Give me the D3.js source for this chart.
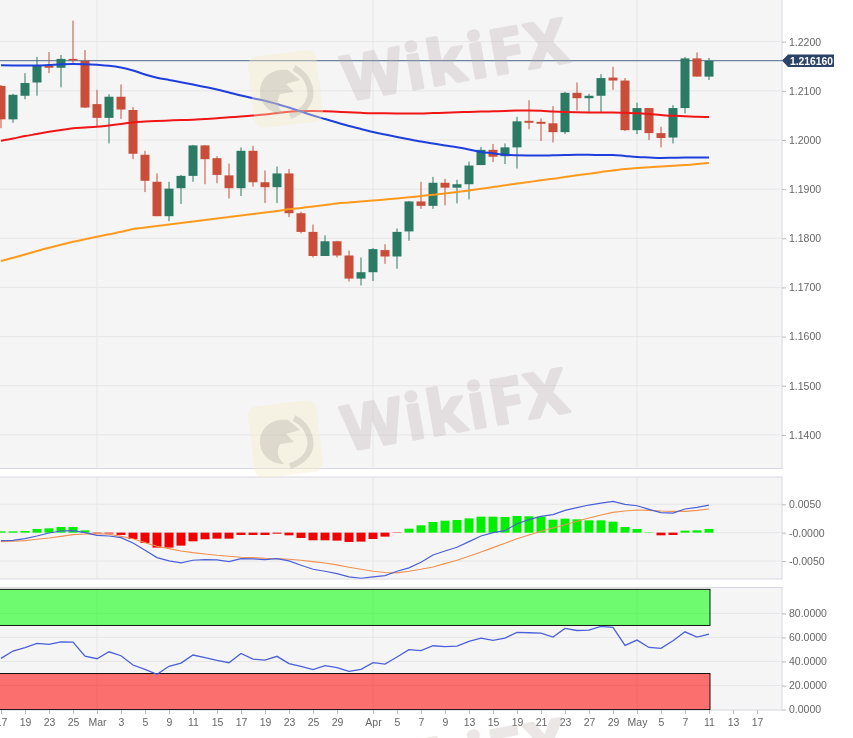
<!DOCTYPE html>
<html>
<head>
<meta charset="utf-8">
<script src="https://cdn.jsdelivr.net/npm/d3@7"></script>
<style>
  html, body { margin: 0; padding: 0; background: #fff; overflow: hidden; }
  svg { display: block; filter: blur(.35px); }
  text { font-family: "Liberation Sans", Arial, sans-serif; }
  .tick text { fill: #666; font-size: 10.5px; }
  .tick line { stroke: #bbb; }
</style>
</head>
<body>
<script>
const open_ = [1.2110,1.2042,1.2090,1.2117,1.2151,1.2147,1.2165,1.2161,1.2073,1.2045,1.2088,1.2061,1.1970,1.1915,1.1845,1.1902,1.1927,1.1989,1.1963,1.1928,1.1902,1.1978,1.1914,1.1904,1.1932,1.1851,1.1813,1.1764,1.1794,1.1765,1.1718,1.1731,1.1776,1.1763,1.1814,1.1875,1.1866,1.1913,1.1903,1.1910,1.1949,1.1980,1.1967,1.1985,1.2039,1.2037,1.2034,1.2016,1.2096,1.2085,1.2090,1.2127,1.2121,1.2020,1.2065,1.2014,1.2005,1.2065,1.2166,1.2129];
const close_ = [1.2042,1.2092,1.2116,1.2151,1.2147,1.2165,1.2162,1.2066,1.2045,1.2088,1.2062,1.1972,1.1917,1.1845,1.1901,1.1927,1.1989,1.1961,1.1929,1.1902,1.1978,1.1914,1.1904,1.1932,1.1851,1.1813,1.1764,1.1794,1.1765,1.1718,1.1731,1.1778,1.1763,1.1813,1.1875,1.1866,1.1913,1.1903,1.1910,1.1948,1.1980,1.1966,1.1985,1.2038,1.2035,1.2033,1.2016,1.2096,1.2085,1.2090,1.2126,1.2121,1.2020,1.2065,1.2014,1.2004,1.2065,1.2166,1.2129,1.2161];
const high = [1.2112,1.2094,1.2136,1.2169,1.2179,1.2173,1.2243,1.2183,1.2102,1.2093,1.2113,1.2067,1.1978,1.1932,1.1915,1.1929,1.1990,1.1990,1.1967,1.1952,1.1985,1.1988,1.1938,1.1946,1.1941,1.1854,1.1828,1.1806,1.1795,1.1775,1.1761,1.1780,1.1788,1.1820,1.1876,1.1915,1.1925,1.1921,1.1919,1.1956,1.1986,1.1992,1.1993,1.2047,1.2081,1.2044,1.2069,1.2098,1.2117,1.2094,1.2134,1.2149,1.2126,1.2076,1.2065,1.2027,1.2071,1.2169,1.2178,1.2167];
const low = [1.2024,1.2035,1.2083,1.2090,1.2136,1.2107,1.2157,1.2065,1.2028,1.1993,1.2043,1.1961,1.1894,1.1845,1.1835,1.1870,1.1915,1.1910,1.1912,1.1881,1.1886,1.1905,1.1872,1.1872,1.1843,1.1810,1.1761,1.1764,1.1761,1.1712,1.1704,1.1713,1.1748,1.1738,1.1795,1.1860,1.1860,1.1867,1.1871,1.1879,1.1949,1.1955,1.1951,1.1942,1.2022,1.1998,1.1995,1.2012,1.2060,1.2056,1.2056,1.2102,1.2018,1.2012,1.2000,1.1985,1.1993,1.2054,1.2129,1.2122];

const maBlue = [1.21520,1.21518,1.21514,1.21514,1.21526,1.21540,1.21546,1.21542,1.21530,1.21512,1.21475,1.21414,1.21333,1.21268,1.21221,1.21176,1.21129,1.21078,1.21027,1.20966,1.20905,1.20850,1.20800,1.20732,1.20661,1.20580,1.20498,1.20427,1.20356,1.20285,1.20224,1.20163,1.20112,1.20061,1.20014,1.19969,1.19929,1.19888,1.19851,1.19807,1.19756,1.19729,1.19699,1.19689,1.19685,1.19683,1.19689,1.19695,1.19699,1.19699,1.19695,1.19695,1.19674,1.19654,1.19644,1.19634,1.19638,1.19642,1.19644,1.19644];
const maRed = [1.19986,1.20031,1.20081,1.20122,1.20167,1.20203,1.20238,1.20254,1.20271,1.20295,1.20326,1.20362,1.20376,1.20387,1.20397,1.20407,1.20411,1.20427,1.20442,1.20462,1.20478,1.20498,1.20519,1.20549,1.20574,1.20590,1.20590,1.20584,1.20574,1.20564,1.20553,1.20545,1.20543,1.20541,1.20539,1.20541,1.20549,1.20555,1.20564,1.20570,1.20578,1.20584,1.20590,1.20598,1.20600,1.20594,1.20580,1.20570,1.20564,1.20562,1.20562,1.20562,1.20553,1.20545,1.20529,1.20509,1.20492,1.20484,1.20472,1.20468];
const maOrange = [1.17538,1.17603,1.17670,1.17742,1.17809,1.17870,1.17929,1.17982,1.18031,1.18081,1.18132,1.18189,1.18220,1.18250,1.18281,1.18311,1.18342,1.18372,1.18403,1.18433,1.18464,1.18494,1.18525,1.18555,1.18590,1.18616,1.18647,1.18677,1.18708,1.18728,1.18749,1.18769,1.18789,1.18810,1.18834,1.18861,1.18885,1.18911,1.18942,1.18973,1.19007,1.19044,1.19078,1.19115,1.19145,1.19180,1.19211,1.19247,1.19282,1.19314,1.19349,1.19379,1.19410,1.19430,1.19447,1.19461,1.19475,1.19491,1.19512,1.19532];

const macdHist = [.00023,.00023,.00029,.00065,.00076,.00100,.00100,.00041,-.00008,-.00015,-.00040,-.00112,-.00182,-.00264,-.00264,-.00229,-.00153,-.00117,-.00106,-.00106,-.00041,-.00041,-.00041,-.00018,-.00047,-.00094,-.00135,-.00135,-.00141,-.00164,-.00158,-.00112,-.00070,-.00006,.00070,.00129,.00188,.00211,.00223,.00252,.00282,.00282,.00276,.00294,.00288,.00282,.00229,.00247,.00235,.00217,.00217,.00194,.00100,.00065,.00006,-.00047,-.00041,.00035,.00041,.00065];
const macdLine = [-.00141,-.00135,-.00106,-.00059,-.00006,.00029,.00035,0,-.00047,-.00059,-.00088,-.00182,-.00311,-.00440,-.00499,-.00534,-.00487,-.00475,-.00481,-.00511,-.00458,-.00464,-.00475,-.00458,-.00499,-.00575,-.00646,-.00681,-.00722,-.00781,-.00804,-.00781,-.00757,-.00681,-.00622,-.00522,-.00393,-.00323,-.00258,-.00158,-.00059,0,.00035,.00158,.00229,.00288,.00317,.00393,.00440,.00487,.00522,.00552,.00499,.00475,.00411,.00352,.00346,.00417,.00446,.00487];
const macdSignal = [-.00158,-.00153,-.00141,-.00117,-.00094,-.00065,-.00035,-.00023,-.00018,-.00029,-.00065,-.00106,-.00176,-.00241,-.00282,-.00323,-.00352,-.00376,-.00399,-.00417,-.00434,-.00440,-.00452,-.00458,-.00470,-.00487,-.00511,-.00534,-.00569,-.00610,-.00646,-.00681,-.00704,-.00710,-.00681,-.00646,-.00605,-.00546,-.00487,-.00417,-.00340,-.00264,-.00188,-.00106,-.00041,.00023,.00082,.00141,.00200,.00258,.00311,.00358,.00382,.00399,.00393,.00382,.00376,.00376,.00393,.00417];

const rsi = [42.6,48.7,51.5,55.0,54.2,56.4,56.2,44.5,42.3,48.1,44.8,37.1,33.5,29.3,36.0,38.7,45.4,43.2,40.9,39.0,46.7,42.0,41.2,44.3,38.2,36.0,33.2,36.5,34.9,31.8,33.5,39.0,37.9,43.7,49.8,49.0,53.1,52.3,52.8,56.7,59.5,57.5,59.5,64.2,63.9,63.6,60.3,67.5,65.8,66.1,69.2,68.3,53.4,57.8,51.7,50.9,57.3,64.7,60.3,62.8];

const dateIdx = [0,2,4,6,8,10,12,14,16,18,20,22,24,26,28,31,33,35,37,39,41,43,45,47,49,51,53,55,57,59,61,63];
const dateLabels = ["17","19","23","25","Mar","3","5","9","11","15","17","19","23","25","29","Apr","5","7","9","13","15","19","21","23","27","29","May","5","7","11","13","17"];
const monthIdx = [8,31,53];
const priceTicks = [1.14,1.15,1.16,1.17,1.18,1.19,1.20,1.21,1.22];
const macdTicks = [-.005,0,.005];
const rsiTicks = [0,20,40,60,80];
const lastPrice = 1.21616;

const W = 853, H = 738;
const panelRight = 782;
const bg = "#f5f5f6", grid = "#e6e6e8", frame = "#d8d8e2";

const svg = d3.select("body").append("svg").attr("width", W).attr("height", H);

const x = d3.scaleLinear().domain([0, 59]).range([1, 709]);
const yPrice = d3.scaleLinear().domain([1.22, 1.14]).range([41.7, 434.9]);
const yMacd = d3.scaleLinear().domain([.005, -.005]).range([504.3, 561]);
const yRsi = d3.scaleLinear().domain([0, 80]).range([709.6, 613.4]);

const panels = [
  { id: "main", top: -2, bottom: 468.5, y: yPrice, ticks: priceTicks, fmt: d3.format(".4f") },
  { id: "macd", top: 477, bottom: 579, y: yMacd, ticks: macdTicks, fmt: d => (d <= 0 ? "-" : "") + d3.format(".4f")(Math.abs(d)) },
  { id: "rsi", top: 587.5, bottom: 710, y: yRsi, ticks: rsiTicks, fmt: d3.format(".4f") }
];

svg.append("defs").selectAll("clipPath").data(panels).enter().append("clipPath")
  .attr("id", d => "clip-" + d.id)
  .append("rect").attr("x", 0).attr("y", d => d.top).attr("width", panelRight).attr("height", d => d.bottom - d.top);

// panel backgrounds, grid, y axes
panels.forEach(p => {
  const g = svg.append("g").attr("class", "panel-" + p.id);
  g.append("rect").attr("x", -2).attr("y", p.top).attr("width", panelRight + 2).attr("height", p.bottom - p.top)
    .attr("fill", bg).attr("stroke", frame).attr("stroke-width", 1);
  g.selectAll("line.h").data(p.ticks).enter().append("line").attr("class", "h")
    .attr("x1", 0).attr("x2", panelRight).attr("y1", d => p.y(d)).attr("y2", d => p.y(d))
    .attr("stroke", grid);
  g.selectAll("line.v").data(monthIdx).enter().append("line").attr("class", "v")
    .attr("x1", d => x(d)).attr("x2", d => x(d)).attr("y1", p.top).attr("y2", p.bottom)
    .attr("stroke", grid);
  const ax = svg.append("g").attr("transform", `translate(${panelRight},0)`)
    .call(d3.axisRight(p.y).tickValues(p.ticks).tickFormat(p.fmt).tickSize(4).tickPadding(3));
  ax.select(".domain").remove();
});

const main = svg.append("g").attr("clip-path", "url(#clip-main)");
const indices = d3.range(open_.length);

// last price line goes under the candles
main.append("line").attr("x1", 0).attr("x2", panelRight)
  .attr("y1", yPrice(lastPrice)).attr("y2", yPrice(lastPrice))
  .attr("stroke", "#6f84a0").attr("stroke-width", 1.2);

const candleColor = i => close_[i] >= open_[i] ? "#2b7b64" : "#ca4d39";

main.selectAll("line.wick").data(indices).enter().append("line").attr("class", "wick")
  .attr("x1", i => x(i)).attr("x2", i => x(i))
  .attr("y1", i => yPrice(high[i])).attr("y2", i => yPrice(low[i]))
  .attr("stroke", candleColor).attr("stroke-width", 1);

main.selectAll("rect.body").data(indices).enter().append("rect").attr("class", "body")
  .attr("x", i => x(i) - 4.5).attr("width", 9)
  .attr("y", i => yPrice(Math.max(open_[i], close_[i])))
  .attr("height", i => Math.max(1.5, Math.abs(yPrice(open_[i]) - yPrice(close_[i]))))
  .attr("fill", candleColor);

const lineOf = yScale => d3.line().x((d, i) => x(i)).y(d => yScale(d)).curve(d3.curveMonotoneX);

[[maOrange, "#ff9a1e"], [maRed, "#f01616"], [maBlue, "#1f3fdc"]].forEach(([vals, col]) => {
  main.append("path").attr("d", lineOf(yPrice)(vals))
    .attr("fill", "none").attr("stroke", col).attr("stroke-width", 2);
});

// last price flag
const flagY = yPrice(lastPrice);
svg.append("path")
  .attr("d", `M782,${flagY} L788,${flagY - 6} H834 V${flagY + 6.5} H788 Z`)
  .attr("fill", "#2a4366");
svg.append("text").attr("x", 790).attr("y", flagY + 4)
  .attr("fill", "#fff").attr("font-size", 10.3).attr("font-weight", "bold")
  .text(d3.format(".6f")(lastPrice));

// macd
const macd = svg.append("g").attr("clip-path", "url(#clip-macd)");
macd.selectAll("rect.hist").data(macdHist).enter().append("rect").attr("class", "hist")
  .attr("x", (d, i) => x(i) - 4.5).attr("width", 9)
  .attr("y", d => d >= 0 ? yMacd(d) : yMacd(0))
  .attr("height", d => Math.abs(yMacd(d) - yMacd(0)))
  .attr("fill", d => d >= 0 ? "#00f000" : "#f00000");
const plainLine = yScale => d3.line().x((d, i) => x(i)).y(d => yScale(d));
macd.append("path").attr("d", plainLine(yMacd)(macdSignal)).attr("fill", "none").attr("stroke", "#f0914f").attr("stroke-width", 1.1);
macd.append("path").attr("d", plainLine(yMacd)(macdLine)).attr("fill", "none").attr("stroke", "#4a60d8").attr("stroke-width", 1.2);

// rsi bands and line
const rsiG = svg.append("g").attr("clip-path", "url(#clip-rsi)");
rsiG.append("rect").attr("x", -2).attr("width", x(59) + 3)
  .attr("y", yRsi(100)).attr("height", yRsi(70) - yRsi(100))
  .attr("fill", "#00ff00").attr("fill-opacity", .55).attr("stroke", "#000").attr("stroke-width", .9);
rsiG.append("rect").attr("x", -2).attr("width", x(59) + 3)
  .attr("y", yRsi(30)).attr("height", yRsi(0) - yRsi(30))
  .attr("fill", "#ff0000").attr("fill-opacity", .55).attr("stroke", "#000").attr("stroke-width", .9);
rsiG.append("path").attr("d", plainLine(yRsi)(rsi)).attr("fill", "none").attr("stroke", "#4a60d8").attr("stroke-width", 1.3);

// date axis
const xAxis = svg.append("g").attr("transform", "translate(0,710)")
  .call(d3.axisBottom(x).tickValues(dateIdx).tickFormat((d, i) => dateLabels[i]).tickSize(4).tickPadding(4.5));
xAxis.select(".domain").remove();

// watermark, repeated down the page
const marks = [0, 350, 700];
const wm = svg.append("g").attr("pointer-events", "none");
marks.forEach(dy => {
  const g = wm.append("g").attr("transform", `translate(0,${dy})`);
  g.append("rect").attr("x", 251).attr("y", 53).attr("width", 69).attr("height", 72).attr("rx", 9)
    .attr("transform", "rotate(-7 286 89)").attr("fill", "#f8ecc4").attr("fill-opacity", .38);
  // eagle head and the swoosh round it
  g.append("path").attr("d", "M260,92 C260,76 274,68 288,70 L300,80 L286,84 L294,92 L280,94 C276,102 278,108 284,114 C270,114 260,104 260,92 Z")
    .attr("fill", "#b5b0aa").attr("fill-opacity", .38);
  g.append("path").attr("d", "M294,68 C310,76 316,96 304,108 C300,112 296,114 290,116")
    .attr("fill", "none").attr("stroke", "#b5b0aa").attr("stroke-opacity", .38).attr("stroke-width", 6);
  g.append("text").attr("transform", "translate(347,101) rotate(-10)")
    .attr("font-size", 62).attr("font-weight", "bold").attr("letter-spacing", 3)
    .style("font-family", "'Open Sans', sans-serif")
    .attr("fill", "#b4a8a6").attr("stroke", "#b4a8a6").attr("stroke-width", 3).attr("stroke-linejoin", "round")
    .attr("opacity", .27)
    .text("WikiFX");
});
</script>
</body>
</html>
